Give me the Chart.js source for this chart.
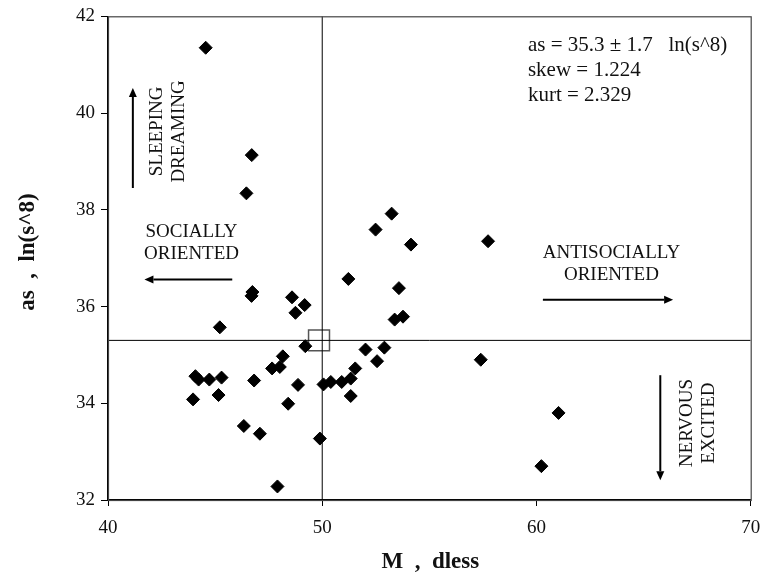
<!DOCTYPE html>
<html>
<head>
<meta charset="utf-8">
<title>as vs M</title>
<script src="https://cdn.jsdelivr.net/npm/chart.js@4.4.1/dist/chart.umd.min.js"></script>
<style>
  body { margin: 0; background: #fff; }
  #wrap { width: 767px; height: 573px; }
</style>
</head>
<body>
<div id="wrap"><canvas id="scatter" width="767" height="573"></canvas></div>
<script>
// M (dimensionless) for each sample
const mValues = [
    44.56, 46.71, 46.46, 53.24, 52.49, 54.14, 57.74, 46.74, 46.70, 45.22,
    48.59, 49.18, 48.75, 49.21, 48.16, 47.66, 48.02, 44.08, 44.23, 44.73,
    45.30, 46.82, 48.87, 43.97, 45.16, 48.41, 46.34, 47.09, 47.91, 49.89,
    50.06, 51.22, 53.58, 53.38, 53.77, 52.02, 52.90, 52.56, 57.40, 51.54,
    50.40, 50.91, 51.33, 51.33, 60.23, 61.03
];

// as = ln(s^8) for the same samples
const asValues = [
    41.35, 39.13, 38.34, 37.92, 37.59, 37.28, 37.35, 36.30, 36.22, 35.57,
    36.19, 36.03, 35.87, 35.18, 34.97, 34.72, 34.75, 34.56, 34.49, 34.49,
    34.53, 34.47, 34.38, 34.08, 34.17, 33.99, 33.53, 33.37, 32.28, 33.27,
    34.39, 36.57, 36.38, 35.73, 35.79, 35.11, 35.15, 34.87, 34.90, 34.72,
    34.44, 34.44, 34.51, 34.15, 32.70, 33.80
];

// reference values for the cross-hair
const meanM = 50;
const meanAs = 35.3;
const sdAs = 1.7;
const skewAs = 1.224;
const kurtAs = 2.329;

// axis ranges and ticks
const xRange = [40, 70];
const yRange = [32, 42];
const xStep = 10;
const yStep = 2;

const statLines = [
    'as = ' + meanAs.toFixed(1) + ' \u00b1 ' + sdAs.toFixed(1) + '   ln(s^8)',
    'skew = ' + skewAs.toFixed(3),
    'kurt = ' + kurtAs.toFixed(3)
];

const points = mValues.map((m, i) => ({ x: m, y: asValues[i] }));

const serif = '"Liberation Serif", "Times New Roman", serif';

// quadrant labels and arrows, given in data units
const quadrantNotes = [
    { lines: ['SLEEPING', 'DREAMING'], x: 42.82, y: 39.62, rotate: true },
    { lines: ['SOCIALLY', 'ORIENTED'], x: 43.9, y: 37.32, rotate: false },
    { lines: ['ANTISOCIALLY', 'ORIENTED'], x: 63.5, y: 36.87, rotate: false },
    { lines: ['NERVOUS', 'EXCITED'], x: 67.56, y: 33.59, rotate: true }
];
const arrows = [
    { from: [41.16, 38.45], to: [41.16, 40.52] },
    { from: [45.8, 36.56], to: [41.7, 36.56] },
    { from: [60.3, 36.14], to: [66.38, 36.14] },
    { from: [65.78, 34.58], to: [65.78, 32.41] }
];

function drawArrow(ctx, x1, y1, x2, y2) {
    const ang = Math.atan2(y2 - y1, x2 - x1);
    const head = 9, half = 4;
    ctx.beginPath();
    ctx.moveTo(x1, y1);
    ctx.lineTo(x2 - Math.cos(ang) * head, y2 - Math.sin(ang) * head);
    ctx.stroke();
    ctx.beginPath();
    ctx.moveTo(x2, y2);
    ctx.lineTo(x2 - Math.cos(ang) * head - Math.sin(ang) * half, y2 - Math.sin(ang) * head + Math.cos(ang) * half);
    ctx.lineTo(x2 - Math.cos(ang) * head + Math.sin(ang) * half, y2 - Math.sin(ang) * head - Math.cos(ang) * half);
    ctx.closePath();
    ctx.fill();
}

const annotations = {
    id: 'annotations',
    afterDatasetsDraw(chart) {
        const { ctx, chartArea: a, scales: { x, y } } = chart;
        ctx.save();

        // frame round the plot
        ctx.strokeStyle = '#444';
        ctx.lineWidth = 1.2;
        ctx.strokeRect(a.left + 0.5, a.top + 0.5, a.right - a.left, a.bottom - a.top);

        ctx.fillStyle = '#111';
        ctx.textBaseline = 'middle';

        // statistics block
        ctx.font = '21px ' + serif;
        ctx.textAlign = 'left';
        statLines.forEach((t, i) => {
            ctx.fillText(t, x.getPixelForValue(59.6), y.getPixelForValue(41.4) + i * 25);
        });

        // quadrant labels
        ctx.font = '19px ' + serif;
        ctx.textAlign = 'center';
        quadrantNotes.forEach(n => {
            const px = x.getPixelForValue(n.x);
            const py = y.getPixelForValue(n.y);
            ctx.save();
            ctx.translate(px, py);
            if (n.rotate) ctx.rotate(-Math.PI / 2);
            n.lines.forEach((t, i) => {
                const off = (i - (n.lines.length - 1) / 2) * 22;
                ctx.fillText(t, 0, off);
            });
            ctx.restore();
        });

        // arrows
        ctx.strokeStyle = '#000';
        ctx.fillStyle = '#000';
        ctx.lineWidth = 2;
        arrows.forEach(ar => {
            drawArrow(ctx,
                x.getPixelForValue(ar.from[0]), y.getPixelForValue(ar.from[1]),
                x.getPixelForValue(ar.to[0]), y.getPixelForValue(ar.to[1]));
        });

        // axis titles
        ctx.fillStyle = '#111';
        ctx.font = 'bold 23px ' + serif;
        ctx.textAlign = 'center';
        ctx.textBaseline = 'alphabetic';
        ctx.fillText('M  ,  dless', (a.left + a.right) / 2 + 1, 568);
        ctx.save();
        ctx.translate(34, 252);
        ctx.rotate(-Math.PI / 2);
        ctx.fillText('as  ,  ln(s^8)', 0, 0);
        ctx.restore();

        ctx.restore();
    }
};

const ctx = document.getElementById('scatter').getContext('2d');
const chart = new Chart(ctx, {
    type: 'scatter',
    data: {
        datasets: [
            {
                label: 'as',
                data: points,
                pointStyle: 'rectRot',
                pointRadius: 6.5,
                backgroundColor: '#000',
                borderColor: '#000',
                borderWidth: 1
            },
            {
                label: 'mean M',
                type: 'line',
                data: [{ x: meanM, y: yRange[0] }, { x: meanM, y: yRange[1] }],
                borderColor: '#000',
                borderWidth: 1,
                pointRadius: 0
            },
            {
                label: 'mean as',
                type: 'line',
                data: [{ x: xRange[0], y: meanAs }, { x: xRange[1], y: meanAs }],
                borderColor: '#000',
                borderWidth: 1,
                pointRadius: 0
            },
            {
                label: 'centre',
                data: [{ x: meanM - 0.15, y: meanAs }],
                pointStyle: 'rect',
                pointRadius: 14.8,
                backgroundColor: 'rgba(0,0,0,0)',
                borderColor: '#555',
                borderWidth: 1.5
            }
        ]
    },
    options: {
        responsive: false,
        animation: false,
        devicePixelRatio: 1,
        layout: { padding: { top: 15, right: 12, left: 0, bottom: 0 } },
        plugins: {
            legend: { display: false },
            tooltip: { enabled: false }
        },
        scales: {
            x: {
                type: 'linear',
                min: xRange[0],
                max: xRange[1],
                // fixed box: keep the end labels from shrinking the plot
                afterFit: s => { s.height = 73; s.paddingLeft = 0; s.paddingRight = 0; },
                border: { color: '#000', width: 1.5 },
                grid: { drawOnChartArea: false, tickLength: 6, color: '#000' },
                ticks: {
                    stepSize: xStep,
                    padding: 11,
                    color: '#111',
                    font: { family: serif, size: 19 }
                }
            },
            y: {
                min: yRange[0],
                max: yRange[1],
                afterFit: s => { s.width = 108; s.paddingTop = 0; s.paddingBottom = 0; },
                border: { color: '#000', width: 1.5 },
                grid: { drawOnChartArea: false, tickLength: 7, color: '#000' },
                ticks: {
                    stepSize: yStep,
                    padding: 6,
                    color: '#111',
                    font: { family: serif, size: 19 }
                }
            }
        }
    },
    plugins: [annotations]
});
</script>
</body>
</html>
